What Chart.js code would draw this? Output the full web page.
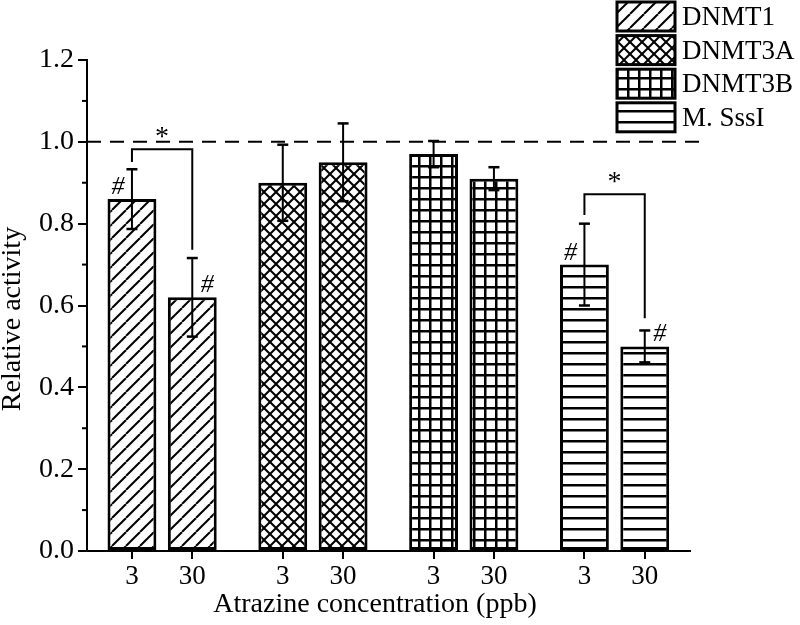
<!DOCTYPE html>
<html lang="en">
<head>
  <meta charset="UTF-8" />
  <title>Relative activity</title>
  <script src="https://cdn.jsdelivr.net/npm/chart.js"></script>
  <style>
    body {
      margin: 0;
      padding: 0;
      background: #fff;
    }
    .wrap {
      width: 800px;
      height: 625px;
      position: relative;
    }
  </style>
</head>
<body>
  <div class="wrap">
    <canvas id="activityChart"></canvas>
  </div>

  <script>
    // data
    const enzymes = ['DNMT1', 'DNMT3A', 'DNMT3B', 'M. SssI'];
    const concLabels = ['3', '30'];
    const dnmt1 = [0.86, 0.62];
    const dnmt3a = [0.90, 0.95];
    const dnmt3b = [0.97, 0.91];
    const msssi = [0.70, 0.50];
    const dnmt1Err = [0.073, 0.096];
    const dnmt3aErr = [0.093, 0.095];
    const dnmt3bErr = [0.032, 0.028];
    const msssiErr = [0.10, 0.039];
    // '#' marks (vs control) per bar
    const hashMarks = [[true, true], [false, false], [false, false], [true, true]];
    // '*' brackets between 3 and 30 ppb
    const bracketGroups = [0, 3];
    const bracketTop = [0.982, 0.872];
    const bracketLeft = [0.951, 0.821];
    const bracketRight = [0.736, 0.569];
    const refLevel = 1.0;
    const xTitle = 'Atrazine concentration (ppb)';
    const yTitle = 'Relative activity';

    const series = [dnmt1, dnmt3a, dnmt3b, msssi];
    const errors = [dnmt1Err, dnmt3aErr, dnmt3bErr, msssiErr];
    const groupGap = 2.5;
    const xPositions = [];
    series.forEach((s, g) => s.forEach((v, i) => xPositions.push(g * groupGap + i)));
    const xTickLabels = series.flatMap(() => concLabels);

    const serif = "'Liberation Serif', 'Times New Roman', serif";
    Chart.defaults.font.family = serif;
    Chart.defaults.color = '#000';

    // hatch patterns
    function makePattern(kind) {
      const p = { diag: 14, cross: 12, grid: 11, horiz: 11 }[kind];
      const c = document.createElement('canvas');
      c.width = p; c.height = p;
      const g = c.getContext('2d');
      g.fillStyle = '#fff';
      g.fillRect(0, 0, p, p);
      g.strokeStyle = '#000';
      g.fillStyle = '#000';
      g.lineWidth = 2;
      if (kind === 'diag' || kind === 'cross') {
        for (let k = -1; k <= 1; k++) {
          g.beginPath(); g.moveTo(k * p, p); g.lineTo(k * p + p, 0); g.stroke();
          if (kind === 'cross') {
            g.beginPath(); g.moveTo(k * p, 0); g.lineTo(k * p + p, p); g.stroke();
          }
        }
      }
      if (kind === 'grid' || kind === 'horiz') g.fillRect(0, 0, p, 2.5);
      if (kind === 'grid') g.fillRect(0, 0, 2.5, p);
      return g.createPattern(c, 'repeat');
    }
    const patterns = [makePattern('diag'), makePattern('cross'), makePattern('grid'), makePattern('horiz')];

    function line(ctx, x1, y1, x2, y2) {
      ctx.beginPath(); ctx.moveTo(x1, y1); ctx.lineTo(x2, y2); ctx.stroke();
    }

    const overlay = {
      id: 'overlay',
      afterDatasetsDraw(chart) {
        const { ctx, chartArea, scales: { x, y } } = chart;
        ctx.save();
        ctx.strokeStyle = '#000';
        ctx.fillStyle = '#000';

        // dashed control line
        ctx.lineWidth = 2;
        ctx.setLineDash([14, 9]);
        const yRef = y.getPixelForValue(refLevel);
        line(ctx, chartArea.left, yRef, x.getPixelForValue(9.5), yRef);
        ctx.setLineDash([]);

        // error bars and '#'
        chart.data.datasets.forEach((ds, g) => {
          const meta = chart.getDatasetMeta(g);
          meta.data.forEach((bar, i) => {
            const v = ds.data[i].y, e = errors[g][i];
            const top = y.getPixelForValue(v + e), bot = y.getPixelForValue(v - e);
            ctx.lineWidth = 2;
            line(ctx, bar.x, top, bar.x, bot);
            ctx.lineWidth = 2.5;
            line(ctx, bar.x - 5.5, top, bar.x + 5.5, top);
            line(ctx, bar.x - 5.5, bot, bar.x + 5.5, bot);
            if (hashMarks[g][i]) {
              ctx.font = 'italic 26px ' + serif;
              ctx.textAlign = 'center';
              ctx.textBaseline = 'alphabetic';
              ctx.fillText('#', i === 0 ? bar.x - 14 : bar.x + 15, y.getPixelForValue(v) - 5);
            }
          });
        });

        // significance brackets
        bracketGroups.forEach((g, k) => {
          const bars = chart.getDatasetMeta(g).data;
          const xl = bars[0].x, xr = bars[1].x;
          const yt = y.getPixelForValue(bracketTop[k]);
          ctx.lineWidth = 2;
          ctx.beginPath();
          ctx.moveTo(xl, y.getPixelForValue(bracketLeft[k]));
          ctx.lineTo(xl, yt);
          ctx.lineTo(xr, yt);
          ctx.lineTo(xr, y.getPixelForValue(bracketRight[k]));
          ctx.stroke();
          ctx.font = '28px ' + serif;
          ctx.textAlign = 'center';
          ctx.textBaseline = 'alphabetic';
          ctx.fillText('*', (xl + xr) / 2, yt - 4);
        });

        // minor ticks on y axis
        ctx.lineWidth = 2;
        for (let t = 1; t < 12; t += 2) {
          const yy = y.getPixelForValue(t / 10);
          line(ctx, chartArea.left - 5, yy, chartArea.left, yy);
        }
        ctx.restore();
      },
      afterDraw(chart) {
        const { ctx } = chart;
        ctx.save();
        // axis titles
        ctx.fillStyle = '#000';
        ctx.font = '28px ' + serif;
        ctx.textAlign = 'center';
        ctx.textBaseline = 'middle';
        ctx.fillText(xTitle, 375, 605);
        ctx.save();
        ctx.translate(13, 319);
        ctx.rotate(-Math.PI / 2);
        ctx.fillText(yTitle, 0, 0);
        ctx.restore();

        // legend, top right
        enzymes.forEach((name, i) => {
          const top = 2 + i * 33.6;
          ctx.fillStyle = patterns[i];
          ctx.fillRect(617, top, 58, 29);
          ctx.strokeStyle = '#000';
          ctx.lineWidth = 3;
          ctx.strokeRect(617, top, 58, 29);
          ctx.fillStyle = '#000';
          ctx.font = '27px ' + serif;
          ctx.textAlign = 'left';
          ctx.textBaseline = 'middle';
          ctx.fillText(name, 682, top + 16);
        });
        ctx.restore();
      }
    };

    const datasets = series.map((s, g) => ({
      label: enzymes[g],
      data: s.map((v, i) => ({ x: g * groupGap + i, y: v })),
      backgroundColor: patterns[g],
      borderColor: '#000',
      borderWidth: 3,
      borderSkipped: false,
      grouped: false,
      categoryPercentage: 1,
      barPercentage: 0.81
    }));

    const ctxActivity = document.getElementById('activityChart').getContext('2d');
    const chartActivity = new Chart(ctxActivity, {
      type: 'bar',
      data: { datasets },
      plugins: [overlay],
      options: {
        responsive: true,
        maintainAspectRatio: false,
        animation: false,
        layout: { padding: { top: 60, right: 110, left: 0, bottom: 0 } },
        plugins: {
          legend: { display: false },
          tooltip: { enabled: false }
        },
        scales: {
          x: {
            type: 'linear',
            min: -0.745,
            max: 9.25,
            offset: false,
            afterBuildTicks: scale => { scale.ticks = xPositions.map(v => ({ value: v })); },
            afterFit: scale => { scale.height = 74; },
            ticks: {
              autoSkip: false,
              maxRotation: 0,
              padding: 2,
              font: { size: 27 },
              callback: (value, index) => xTickLabels[index]
            },
            grid: {
              drawOnChartArea: false,
              offset: false,
              color: '#000',
              lineWidth: 2,
              tickLength: 8
            },
            border: { display: true, color: '#000', width: 2 },
            title: { display: false }
          },
          y: {
            min: 0,
            max: 1.2,
            afterFit: scale => { scale.width = 87; },
            ticks: {
              stepSize: 0.1,
              padding: 4,
              font: { size: 28 },
              callback: v => (Math.round(v * 10) % 2 === 0 ? v.toFixed(1) : '')
            },
            grid: {
              drawOnChartArea: false,
              color: '#000',
              tickColor: c => (Math.round(c.tick.value * 10) % 2 === 0 ? '#000' : 'rgba(0,0,0,0)'),
              lineWidth: 2,
              tickLength: 9
            },
            border: { display: true, color: '#000', width: 2 },
            title: { display: false }
          }
        }
      }
    });
  </script>
</body>
</html>
